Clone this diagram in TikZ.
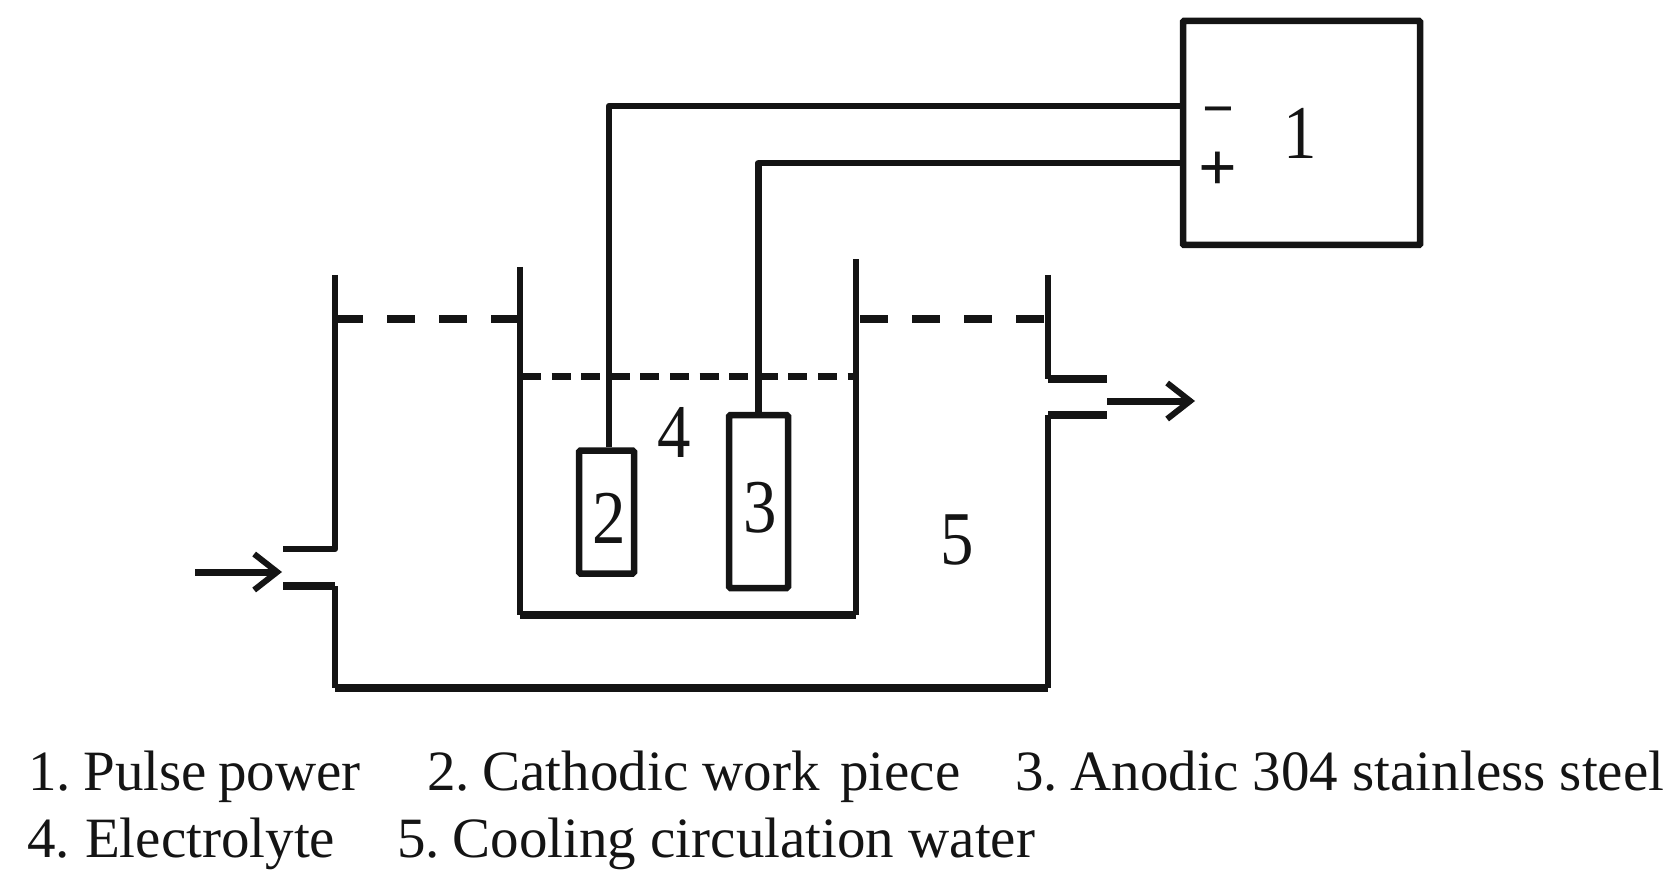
\documentclass[tikz,border=0pt]{standalone}
\usepackage{fontspec}
\setmainfont{Liberation Serif}
\newfontfamily\narrowdigits[FakeStretch=0.88]{Liberation Serif}
\usetikzlibrary{arrows.meta}
\definecolor{ink}{HTML}{141414}
\tikzset{
  x=1pt,y=-1pt,
  wall/.style={draw=ink,line width=6.5pt,line cap=butt,line join=round},
  thick wall/.style={draw=ink,line width=8pt,line cap=butt,line join=round},
  wire/.style={draw=ink,line width=6.5pt,line join=round},
  electrode/.style={draw=ink,line width=6.5pt,fill=white,rounded corners=1.5pt,inner sep=0pt,minimum width=#1},
  level/.style={draw=ink,line width=7.5pt,dash pattern=on 28pt off 24pt},
  surface/.style={draw=ink,line width=7pt,dash pattern=on 19pt off 10.6pt},
  flow/.style={draw=ink,line width=7pt,-{Straight Barb[length=23pt,width=36pt,line width=6pt]}},
  digit/.style={text=ink,inner sep=0pt,font=\narrowdigits\fontsize{76}{76}\selectfont},
  sign/.style={text=ink,inner sep=0pt,font=\bfseries\fontsize{68}{68}\selectfont},
  legend/.style={text=ink,inner sep=0pt,anchor=base west,font=\fontsize{57}{60}\selectfont},
}
\newcommand{\numgap}{\kern-1.5pt\ }
\begin{document}
\begin{tikzpicture}
\useasboundingbox (0,0) rectangle (1675,890);
% power supply
\node[draw=ink,line width=6.5pt,minimum width=237pt,minimum height=224pt,inner sep=0pt,rounded corners=1pt] (power) at (1301.5,133) {};
\coordinate (minusport) at (1183,106);
\coordinate (plusport) at (1183,163);
% electrodes
\node[electrode=55pt,minimum height=123pt] (cathode) at (606.5,512) {};
\node[electrode=59pt,minimum height=173pt] (anode) at (758.5,501.5) {};
% wires
\draw[wire] (cathode.north) ++(2.5,0) coordinate (ctop) -- (ctop |- minusport) -- (minusport);
\draw[wire] (anode.north) |- (plusport);
% tanks
\coordinate (ot1) at (335,275); \coordinate (ot2) at (335,549); \coordinate (in1) at (283,549);
\coordinate (in2) at (283,586); \coordinate (ob1) at (335,586); \coordinate (ob2) at (335,688);
\coordinate (ob3) at (1048,688); \coordinate (or1) at (1048,415); \coordinate (out2) at (1107,415);
\coordinate (or2) at (1048,275); \coordinate (or3) at (1048,379); \coordinate (out1) at (1107,379);
\coordinate (il1) at (520,267); \coordinate (il2) at (520,615); \coordinate (ir2) at (856,615); \coordinate (ir1) at (856,259);
\draw[wall] (ot1) -- (ot2) -- (in1);
\draw[thick wall] (in2) -- (ob1);
\draw[wall] (ob1) -- (ob2);
\draw[thick wall] (ob2) -- (ob3);
\draw[wall] (ob3) -- (or1);
\draw[thick wall] (or1) -- (out2);
\draw[wall] (or2) -- (or3);
\draw[thick wall] (or3) -- (out1);
\draw[wall] (il1) -- (il2);
\draw[thick wall] (il2) -- (ir2);
\draw[wall] (ir2) -- (ir1);
% water and electrolyte levels
\coordinate (wa) at (335,319); \coordinate (wb) at (524,319); \coordinate (wc) at (860,319); \coordinate (wd) at (1048,319);
\draw[level] (wa) -- (wb);
\draw[level] (wc) -- (wd);
\coordinate (sa) at (522,376); \coordinate (sb) at (856,376);
\draw[surface] (sa) -- (sb);
% flow arrows
\coordinate (fa) at (195,572); \coordinate (fb) at (282,572);
\coordinate (fc) at (1107,401); \coordinate (fd) at (1195,401);
\draw[flow] (fa) -- (fb);
\draw[flow] (fc) -- (fd);
% labels
\node[digit] (n1) at (1300,133) {1};
\node[digit] (n2) at (609,518) {2};
\node[digit] (n3) at (760,508) {3};
\node[digit] (n4) at (674,432) {4};
\node[digit] (n5) at (957,540) {5};
\node[sign] (sminus) at (1218,117) {\fontsize{56}{56}\selectfont −};
\node[sign] (splus) at (1218,171) {+};
\node[legend] (l1) at (28,790) {1.\numgap Pulse\kern-3pt{} power};
\node[legend] (l2) at (427,790) {2.\numgap Cathodic work\kern6pt{} piece};
\node[legend] (l3) at (1015,790) {3.\numgap Anodic 304 stainless steel};
\node[legend] (l4) at (27,857) {4.\kern1pt\ Electrolyte};
\node[legend] (l5) at (397,857) {5.\numgap Cooling circulation water};
\end{tikzpicture}
\end{document}
